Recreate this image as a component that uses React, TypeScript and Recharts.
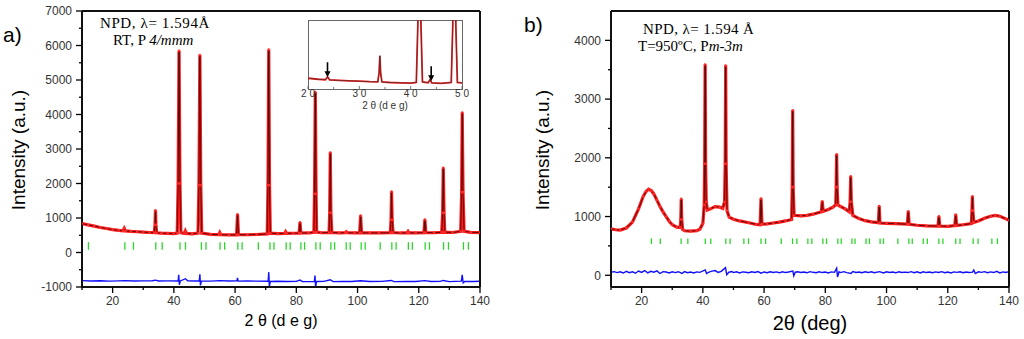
import React from "react";
import { ComposedChart, Line, Scatter, XAxis, YAxis, ReferenceDot } from "recharts";

const SANS = "'Liberation Sans', Arial, Helvetica, sans-serif";
const SERIF = "'Liberation Serif', 'Times New Roman', serif";

// ---- panel a: room temperature, P4/mmm ----
const aTheta = [
  10, 12, 14, 16, 18, 20, 22, 23.4, 23.8, 24.2, 26, 28, 30, 32, 33.6, 33.85, 34.0, 34.15, 34.4, 36, 38, 40,
  41.1, 41.4, 41.7, 42.0, 42.3, 43.4, 43.75, 44.1, 46, 47.9, 48.2, 48.5, 48.8, 49.1, 52, 54.7, 55.0, 55.3,
  58, 60.5, 60.8, 61.1, 64, 67, 70.5, 70.75, 71.0, 71.25, 71.5, 74, 76.2, 76.5, 76.8, 79, 80.9, 81.2, 81.5, 84,
  85.75, 85.95, 86.2, 86.45, 86.65, 88, 90.7, 90.9, 91.1, 91.3, 91.6, 94, 96.0, 96.3, 96.6, 99, 100.7, 101.0,
  101.3, 104, 107, 110.7, 110.95, 111.1, 111.3, 111.6, 114, 116.2, 116.5, 116.8, 119, 121.7, 122.0, 122.3, 125,
  127.5, 127.8, 128.0, 128.25, 128.5, 131, 133.7, 134.0, 134.2, 134.45, 134.8, 137, 140,
];
const aIntensity = [
  840, 800, 765, 725, 695, 665, 640, 628, 700, 625, 612, 602, 592, 580, 575, 800, 1220, 800, 572, 560, 552, 546,
  560, 2000, 5850, 2000, 575, 555, 625, 552, 540, 560, 1950, 5720, 1950, 560, 525, 518, 575, 516,
  508, 512, 1110, 515, 515, 522, 540, 1950, 5880, 1950, 560, 548, 552, 600, 555, 558, 562, 875, 565, 566,
  585, 1700, 4650, 1700, 592, 572, 580, 1150, 2900, 1150, 580, 570, 572, 600, 572, 568, 570, 1070,
  572, 566, 566, 575, 950, 1765, 950, 578, 566, 570, 612, 570, 568, 575, 955, 580, 572,
  585, 1150, 2455, 1150, 590, 580, 610, 1750, 4060, 1750, 615, 585, 578,
];
const aDiffTheta = [
  10, 13, 16, 19, 22, 24, 27, 30, 33, 34, 35, 38, 41.4, 41.6, 41.8, 42.1, 43.8, 44.5, 47, 48.3, 48.5, 48.7, 49,
  52, 55, 58, 60.6, 60.8, 61, 64, 67, 70.8, 71.0, 71.2, 71.5, 74, 77, 80, 81.2, 82, 85.9, 86.1, 86.3, 86.6, 89,
  91.1, 92, 95, 98, 101, 104, 108, 111, 112, 116, 119, 122, 124, 127, 128, 130, 133.9, 134.2, 134.5, 135, 138, 140,
];
const aDiff = [
  -815, -825, -820, -830, -822, -815, -828, -822, -818, -800, -825, -822, -825, -645, -935, -825, -760, -820, -825, -820, -630, -955, -825,
  -830, -815, -828, -822, -735, -830, -825, -830, -835, -570, -1000, -840, -835, -842, -838, -800, -845, -840, -670, -1010, -840, -838,
  -790, -845, -838, -842, -820, -840, -838, -810, -845, -838, -842, -815, -840, -838, -810, -845, -830, -650, -880, -838, -842, -835,
];
const aBragg = [
  12.1, 24.0, 26.8, 34.1, 36.2, 42.0, 43.8, 49.0, 50.5, 55.1, 56.6, 60.9, 62.3, 67.6, 71.4, 72.7, 76.7, 78.0,
  81.5, 82.7, 86.4, 87.8, 91.3, 92.5, 96.3, 97.6, 101.2, 102.5, 107.4, 111.2, 112.6, 116.6, 117.9, 122.1, 123.5,
  128.1, 129.7, 134.6, 136.2,
];
const aBraggLevel = 190;

// ---- panel b: 950 C, Pm-3m ----
const bTheta = [
  10, 11.5, 13, 15, 17, 19, 20.5, 21.5, 22.3, 23.2, 24, 25, 26, 27, 28, 29, 30, 31.5, 32.6, 32.8, 32.95, 33.1,
  33.4, 34, 36, 38, 39, 40, 40.45, 40.6, 40.75, 40.9, 41.1, 41.5, 42.5, 44, 45.5, 46.5, 47.1, 47.3, 47.45, 47.6,
  47.9, 48.6, 50, 52, 55, 57.5, 58.7, 59.0, 59.3, 61, 63, 65, 67, 69.0, 69.2, 69.35, 69.5, 69.8, 72, 74, 76,
  78.7, 79.0, 79.3, 81, 82.5, 83.4, 83.55, 83.7, 83.85, 84.1, 85, 86.5, 87.8, 88.1, 88.3, 88.5, 89, 91, 93, 95,
  97.35, 97.6, 97.85, 100, 103, 106.8, 107.1, 107.4, 110, 113, 116.8, 117.1, 117.4, 120, 122.3, 122.6, 122.9,
  125, 127.7, 127.9, 128.05, 128.2, 128.5, 130, 132, 134, 135.5, 137, 139, 140,
];
const bIntensity = [
  790, 775, 770, 805, 905, 1130, 1340, 1430, 1465, 1440, 1385, 1280, 1170, 1080, 1000, 920, 860, 820, 815, 950, 1300, 950,
  780, 758, 752, 760, 785, 880, 1200, 1900, 3590, 1900, 1250, 1110, 1130, 1170, 1160, 1140, 1250, 1900, 3570, 1900,
  1100, 990, 955, 925, 895, 865, 860, 1305, 870, 875, 890, 905, 925, 950, 1500, 2810, 1500, 1020, 1010, 1020, 1040,
  1080, 1260, 1090, 1120, 1160, 1200, 1500, 2060, 1500, 1200, 1170, 1130, 1080, 1250, 1685, 1250, 1020, 965, 930, 910,
  895, 1180, 890, 885, 878, 870, 1090, 868, 852, 842, 838, 1004, 838, 834, 845, 1033, 848,
  860, 880, 1100, 1345, 1100, 900, 925, 970, 1005, 1020, 1005, 960, 936,
];
const bDiffTheta = [
  10, 11, 12, 13, 14, 15, 16, 17, 18, 19, 20, 21, 22, 23, 24, 25, 26, 27, 28, 29, 30, 31, 32, 33.2, 34, 35, 36,
  37, 38, 39, 40.8, 41.2, 42, 43, 44, 45, 46, 47.4, 47.8, 48.5, 49.5, 50, 51, 52, 53, 54, 55, 56, 57, 58, 59, 60,
  61, 62, 63, 64, 65, 66, 67, 68, 69.4, 69.7, 70.2, 71, 72, 73, 74, 75, 76, 77, 78, 79, 80, 81, 82, 83, 83.7,
  84.0, 84.5, 85, 86, 87, 88.4, 89, 90, 91, 92, 93, 94, 95, 96, 97.7, 99, 100, 101, 102, 103, 104, 105, 106, 107,
  108, 109, 110, 111, 112, 113, 114, 115, 116, 117, 118, 119, 120, 121, 122, 123, 124, 125, 126, 127, 128.1,
  128.5, 129, 130, 131, 132, 133, 134, 135, 136, 137, 138, 139, 140,
];
const bDiff = [
  50, 62, 45, 58, 38, 66, 44, 60, 35, 72, 48, 80, 40, 68, 52, 74, 30, 62, 55, 40, 58, 45, 60, 30, 62, 44, 56,
  40, 58, 50, 90, 30, 55, 70, 80, 48, 66, 130, 10, 52, 62, 45, 60, 40, 58, 52, 44, 60, 48, 62, 35, 56,
  44, 60, 48, 58, 42, 60, 46, 55, 70, -10, 52, 60, 48, 56, 42, 62, 50, 44, 60, 46, 56, 40, 58, 50, 120,
  -30, 58, 46, 62, 44, 30, 62, 48, 56, 42, 58, 46, 60, 44, 62, 40, 58, 46, 56, 42, 60, 48, 54, 46, 62,
  44, 58, 40, 60, 46, 56, 42, 58, 48, 62, 44, 56, 40, 58, 50, 60, 44, 56, 46, 52, 90,
  30, 58, 50, 62, 44, 58, 46, 66, 40, 58, 48, 62, 50, 90,
];
const bBragg = [
  23.2, 26.1, 32.9, 35.1, 40.8, 42.6, 47.5, 48.9, 53.4, 54.9, 59.0, 60.5, 65.6, 69.3, 70.7, 74.3, 75.6, 79.2,
  80.4, 84.1, 85.2, 88.7, 89.7, 93.3, 94.4, 97.9, 99.0, 103.7, 107.3, 108.4, 112.0, 113.3, 117.1, 118.4, 122.6,
  124.0, 128.3, 129.9, 134.4, 136.2,
];
const bBraggLevel = 580;

// ---- ticks ----
const xTicks = [10, 20, 30, 40, 50, 60, 70, 80, 90, 100, 110, 120, 130, 140];
const xLabelled = [20, 40, 60, 80, 100, 120, 140];
const aYTicks = [-1000, -500, 0, 500, 1000, 1500, 2000, 2500, 3000, 3500, 4000, 4500, 5000, 5500, 6000, 6500, 7000];
const bYTicks = [0, 500, 1000, 1500, 2000, 2500, 3000, 3500, 4000];
const yLabelled = [-1000, 0, 1000, 2000, 3000, 4000, 5000, 6000, 7000];
const insetTicks = [20, 25, 30, 35, 40, 45, 50];
const insetLabelled = [20, 30, 40, 50];
const insetArrows = [
  { x: 23.8, y: 690 },
  { x: 44.0, y: 590 },
];

const pts = (xs: number[], ys: number[]) => xs.map((x, i) => ({ x, y: ys[i] }));
const aObs = pts(aTheta, aIntensity);
const aDif = pts(aDiffTheta, aDiff);
const aHkl = aBragg.map((x) => ({ x, y: aBraggLevel }));
const bObs = pts(bTheta, bIntensity);
const bDif = pts(bDiffTheta, bDiff);
const bHkl = bBragg.map((x) => ({ x, y: bBraggLevel }));

const TS = 6;
const TM = 3;

const makeXTick = (labelled: number[]) => (props: any) => {
  const { x, y, payload } = props;
  const ay = y - TS - TM;
  const major = labelled.includes(payload.value);
  return (
    <g>
      <line x1={x} x2={x} y1={ay} y2={ay + (major ? 6 : 3)} stroke="#000" strokeWidth={1.3} />
      {major && (
        <text x={x} y={ay + 18} textAnchor="middle" fontSize={12} fill="#333" fontFamily={SANS}>
          {payload.value}
        </text>
      )}
    </g>
  );
};

const makeYTick = (labelled: number[]) => (props: any) => {
  const { x, y, payload } = props;
  const ax = x + TS + TM;
  const major = labelled.includes(payload.value);
  return (
    <g>
      <line x1={ax} x2={ax - (major ? 6 : 3)} y1={y} y2={y} stroke="#000" strokeWidth={1.3} />
      {major && (
        <text x={ax - 10} y={y} dy="0.36em" textAnchor="end" fontSize={12} fill="#333" fontFamily={SANS}>
          {payload.value}
        </text>
      )}
    </g>
  );
};

const insetTick = (props: any) => {
  const { x, y, payload } = props;
  const ay = y - TS - TM;
  const major = insetLabelled.includes(payload.value);
  return (
    <g>
      <line x1={x} x2={x} y1={ay} y2={ay - (major ? 3 : 2)} stroke="#555" strokeWidth={0.8} />
      {major && (
        <text x={x} y={ay + 8} textAnchor="middle" fontSize={10} fill="#333" fontFamily={SANS}>
          {String(payload.value).split("").join(" ")}
        </text>
      )}
    </g>
  );
};

const braggMark = (h: number) => (props: any) => (
  <line x1={props.cx} x2={props.cx} y1={props.cy - h} y2={props.cy + h} stroke="#2bd62b" strokeWidth={1.3} />
);

const arrow = (props: any) => {
  const { cx, cy } = props;
  return (
    <g>
      <line x1={cx} x2={cx} y1={cy - 15} y2={cy - 5} stroke="#000" strokeWidth={1.6} />
      <path d={`M${cx - 3},${cy - 6} L${cx + 3},${cy - 6} L${cx},${cy} Z`} fill="#000" />
    </g>
  );
};

const frame = { stroke: "#111", strokeWidth: 2 };

function Panel(props: {
  width: number;
  yWidth: number;
  right: number;
  yDomain: [number, number];
  yTicks: number[];
  obs: { x: number; y: number }[];
  dif: { x: number; y: number }[];
  hkl: { x: number; y: number }[];
  hklHalf: number;
}) {
  const { width, yWidth, right, yDomain, yTicks, obs, dif, hkl, hklHalf } = props;
  return (
    <ComposedChart width={width} height={339} margin={{ top: 10, right, bottom: 0, left: 0 }}>
      <XAxis
        dataKey="x"
        type="number"
        domain={[10, 140]}
        allowDataOverflow
        ticks={xTicks}
        interval={0}
        tick={makeXTick(xLabelled)}
        tickLine={false}
        tickSize={TS}
        tickMargin={TM}
        height={52}
        axisLine={frame}
      />
      <XAxis xAxisId="top" orientation="top" type="number" domain={[10, 140]} tick={false} tickLine={false} height={1} axisLine={frame} />
      <YAxis
        dataKey="y"
        type="number"
        domain={yDomain}
        allowDataOverflow
        ticks={yTicks}
        interval={0}
        tick={makeYTick(yLabelled)}
        tickLine={false}
        tickSize={TS}
        tickMargin={TM}
        width={yWidth}
        axisLine={frame}
      />
      <YAxis yAxisId="right" orientation="right" type="number" domain={yDomain} tick={false} tickLine={false} width={1} axisLine={frame} />
      <Scatter data={hkl} shape={braggMark(hklHalf)} isAnimationActive={false} />
      <Line data={dif} dataKey="y" type="linear" stroke="#1010ff" strokeWidth={1.4} dot={false} isAnimationActive={false} />
      <Line data={obs} dataKey="y" type="linear" stroke="#ff1a1a" strokeWidth={3.2} dot={false} isAnimationActive={false} />
      <Line data={obs} dataKey="y" type="linear" stroke="#000" strokeOpacity={0.7} strokeWidth={0.9} dot={false} isAnimationActive={false} />
      <Line
        data={obs}
        dataKey="y"
        type="linear"
        stroke="none"
        dot={{ r: 1.3, fill: "#ff2a2a", stroke: "none" }}
        isAnimationActive={false}
      />
    </ComposedChart>
  );
}

export default function App() {
  return (
    <div style={{ position: "absolute", left: 0, top: 0, width: 1024, height: 339, background: "#fff", overflow: "hidden" }}>
      <div style={{ position: "absolute", left: 0, top: 0 }}>
        <Panel width={500} yWidth={82} right={19} yDomain={[-1000, 7000]} yTicks={aYTicks} obs={aObs} dif={aDif} hkl={aHkl} hklHalf={3.8} />
      </div>
      <div style={{ position: "absolute", left: 520, top: 0 }}>
        <Panel width={504} yWidth={91} right={14} yDomain={[-200, 4500]} yTicks={bYTicks} obs={bObs} dif={bDif} hkl={bHkl} hklHalf={2.8} />
      </div>

      {/* inset of panel a */}
      <div
        style={{
          position: "absolute",
          left: 308,
          top: 20,
          width: 155,
          height: 70,
          boxSizing: "border-box",
          border: "1px solid #666",
          background: "#fff",
        }}
      />
      <div style={{ position: "absolute", left: 298, top: 20 }}>
        <ComposedChart width={174} height={90} margin={{ top: 0, right: 10, bottom: 0, left: 10 }}>
          <XAxis
            dataKey="x"
            type="number"
            domain={[20, 50]}
            allowDataOverflow
            ticks={insetTicks}
            interval={0}
            tick={insetTick}
            tickLine={false}
            tickSize={TS}
            tickMargin={TM}
            height={21}
            axisLine={false}
          />
          <YAxis dataKey="y" type="number" domain={[400, 2100]} allowDataOverflow hide />
          <Line data={aObs} dataKey="y" type="linear" stroke="#ff1a1a" strokeWidth={1.8} dot={false} isAnimationActive={false} />
          <Line data={aObs} dataKey="y" type="linear" stroke="#333" strokeWidth={0.7} dot={false} isAnimationActive={false} />
          {insetArrows.map((a) => (
            <ReferenceDot key={a.x} x={a.x} y={a.y} r={0} shape={arrow} ifOverflow="visible" />
          ))}
        </ComposedChart>
      </div>

      <svg width={1024} height={339} style={{ position: "absolute", left: 0, top: 0, pointerEvents: "none" }}>
        <text x={3} y={42} fontSize={21} fontFamily={SANS} fill="#000">a)</text>
        <text x={524} y={32} fontSize={21} fontFamily={SANS} fill="#000">b)</text>

        <text x={100} y={28} fontSize={15} fontFamily={SERIF} fill="#000" letterSpacing={0.6}>NPD,  λ= 1.594Å</text>
        <text x={113} y={45} fontSize={15} fontFamily={SERIF} fill="#000">
          RT, P <tspan fontStyle="italic">4/mmm</tspan>
        </text>
        <text x={643} y={34} fontSize={15} fontFamily={SERIF} fill="#000" letterSpacing={0.4}>NPD,  λ= 1.594 Å</text>
        <text x={638} y={51} fontSize={15} fontFamily={SERIF} fill="#000">
          T=950ºC, P<tspan fontStyle="italic">m-3m</tspan>
        </text>

        <text x={25} y={150} fontSize={19} fontFamily={SANS} fill="#000" textAnchor="middle" transform="rotate(-90 25 150)">
          Intensity (a.u.)
        </text>
        <text x={549} y={150} fontSize={19} fontFamily={SANS} fill="#000" textAnchor="middle" transform="rotate(-90 549 150)">
          Intensity (a.u.)
        </text>

        <text x={281} y={326} fontSize={16} fontFamily={SANS} fill="#000" textAnchor="middle">2 θ (d e g)</text>
        <text x={810} y={330} fontSize={20} fontFamily={SANS} fill="#000" textAnchor="middle">2θ (deg)</text>

        <text x={385} y={109} fontSize={10} fontFamily={SANS} fill="#333" textAnchor="middle">2 θ (d e g)</text>
      </svg>
    </div>
  );
}
